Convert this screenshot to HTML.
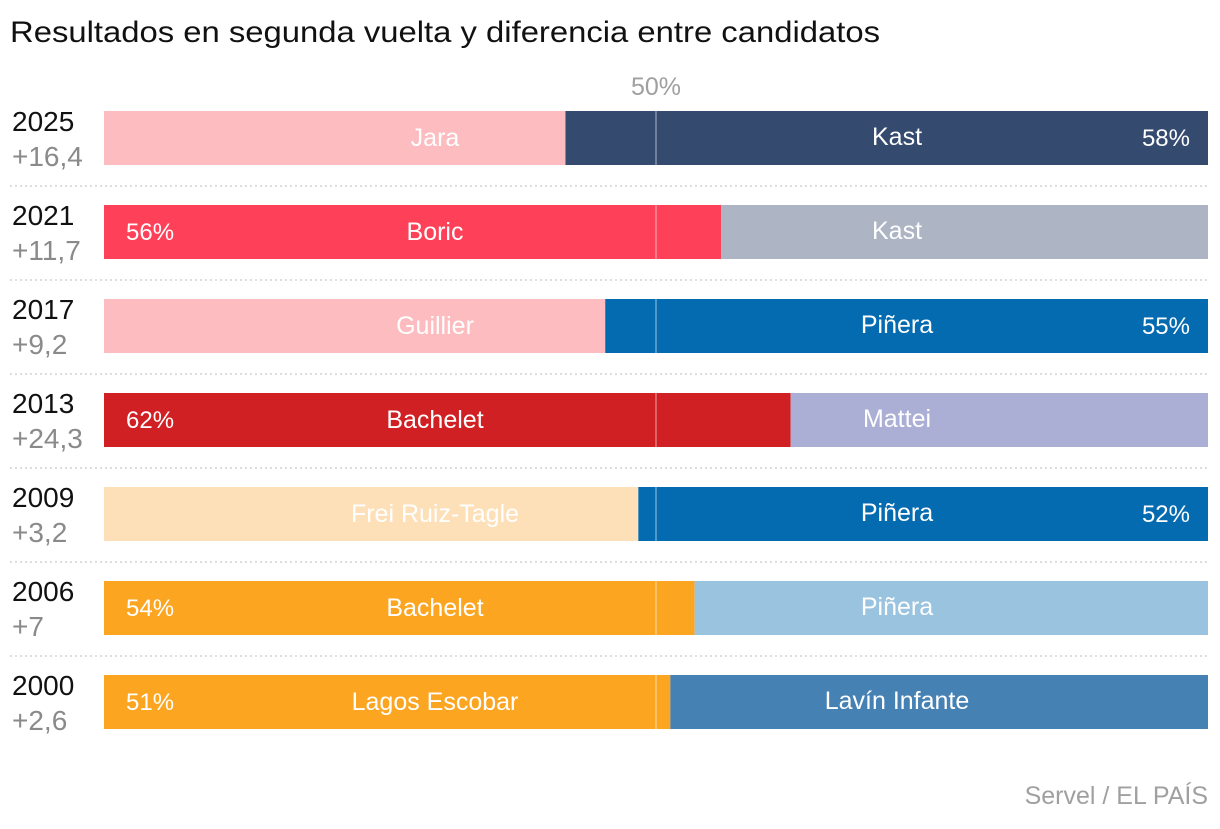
<!DOCTYPE html>
<html><head><meta charset="utf-8"><style>
body{margin:0;background:#fff;width:1220px;height:824px;overflow:hidden;font-family:"Liberation Sans",sans-serif}
svg text{font-family:"Liberation Sans",sans-serif}
</style></head><body>
<svg id="c" width="1220" height="824">
<text x="10" y="42" font-size="30" textLength="870" lengthAdjust="spacingAndGlyphs" fill="#111">Resultados en segunda vuelta y diferencia entre candidatos</text>
<text x="656" y="95" font-size="25" fill="#a0a0a0" text-anchor="middle">50%</text>
<text x="1208" y="804" font-size="25" fill="#a0a0a0" text-anchor="end">Servel / EL PAÍS</text>
<g id="rows"></g>
</svg>
<script>
const years=["2025","2021","2017","2013","2009","2006","2000"];
const diffs=["+16,4","+11,7","+9,2","+24,3","+3,2","+7","+2,6"];
const leftNames=["Jara","Boric","Guillier","Bachelet","Frei Ruiz-Tagle","Bachelet","Lagos Escobar"];
const rightNames=["Kast","Kast","Piñera","Mattei","Piñera","Piñera","Lavín Infante"];
const leftValues=[41.8,55.9,45.4,62.2,48.4,53.5,51.3];
const winnerLeft=[false,true,false,true,false,true,true];
const leftColors=["#fdbcbf","#fe4159","#fdbcbf","#d12024","#fde0b8","#fca520","#fca520"];
const rightColors=["#344a6f","#adb5c4","#046bb1","#abaed5","#046bb1","#9ac3df","#4681b4"];
const x0=104,x1=1208;
const xs=v=>x0+(x1-x0)*v/100;
const g=document.getElementById('rows');
const NS="http://www.w3.org/2000/svg";
function mk(t,a){const e=document.createElementNS(NS,t);for(const k in a)e.setAttribute(k,a[k]);g.appendChild(e);return e;}
years.forEach((y,i)=>{
 const top=111+i*94,h=54,lv=leftValues[i];
 let e;
 e=mk('rect',{x:x0,y:top,width:xs(lv)-x0,height:h,fill:leftColors[i]});
 
 
 e=mk('rect',{x:xs(lv),y:top,width:x1-xs(lv),height:h,fill:rightColors[i]});
 
 
 e=mk('line',{x1:xs(50),x2:xs(50),y1:top,y2:top+h,stroke:'rgba(255,255,255,0.6)','stroke-width':1});
 
 
 e=mk('text',{x:12,y:top+20,'font-size':28,fill:'#111'});e.textContent=y;
 
 
 e=mk('text',{x:12,y:top+55,'font-size':28,fill:'#8a8a8a'});e.textContent=diffs[i];
 
 
 e=mk('text',{x:435,y:top+35,'font-size':25,fill:'#fff','text-anchor':'middle'});e.textContent=leftNames[i];
 
 
 e=mk('text',{x:897,y:top+34,'font-size':25,fill:'#fff','text-anchor':'middle'});e.textContent=rightNames[i];
 
 
 const pct=winnerLeft[i]?Math.round(lv):Math.round(100-lv);
 e=mk('text',{x:winnerLeft[i]?126:1190,y:top+35,'font-size':24,fill:'#fff','text-anchor':winnerLeft[i]?'start':'end'});e.textContent=pct+'%';
 
 
 if(i<years.length-1){
  e=mk('line',{x1:10,x2:1208,y1:top+75,y2:top+75,stroke:'#bbb','stroke-width':1,'stroke-dasharray':'2,3'});
  
  
 }
});
</script>
</body></html>
